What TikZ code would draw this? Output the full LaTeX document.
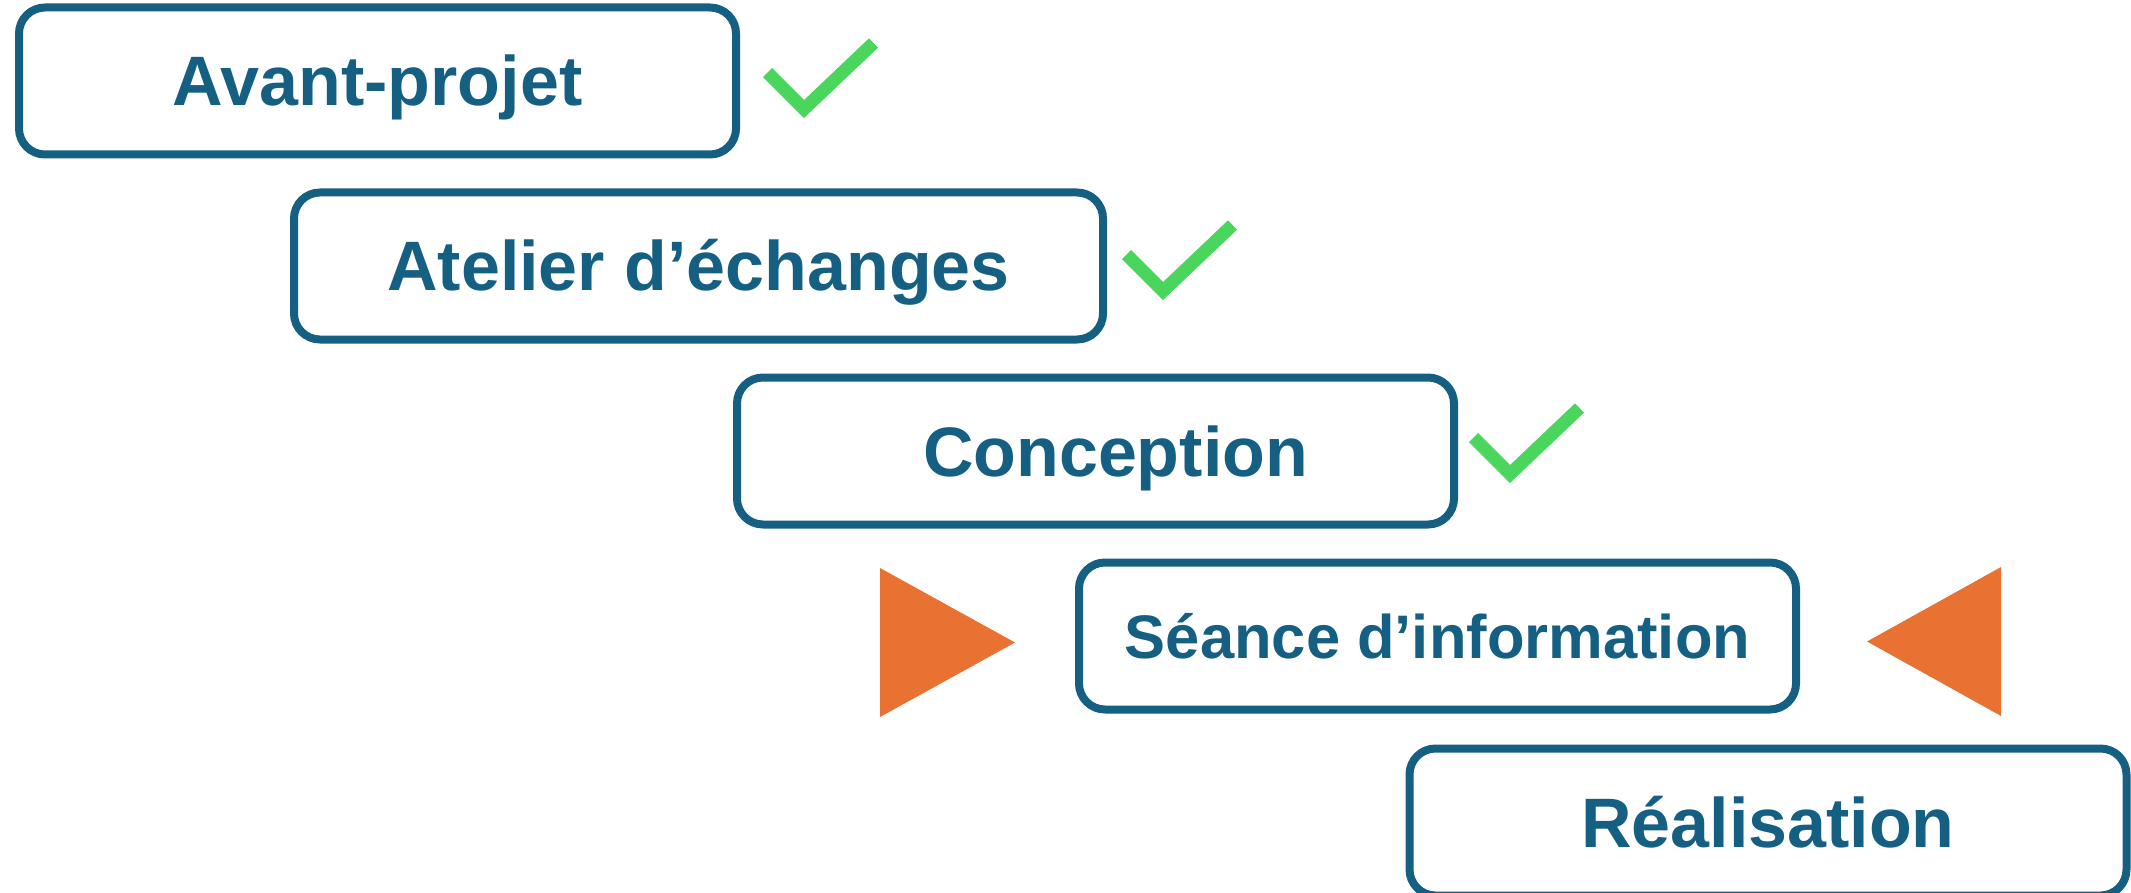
\documentclass[tikz,border=0pt]{standalone}
\usepackage{fontspec}
\setmainfont{Liberation Sans}
\usepackage{tikz}
\usetikzlibrary{positioning, calc}
\definecolor{etapecolor}{HTML}{156082}
\definecolor{checkcolor}{RGB}{74,213,92}
\definecolor{reperecolor}{HTML}{E97132}

\begin{document}
\begin{tikzpicture}[
    x=1pt, y=-1pt,
    etape/.style={draw=etapecolor, rectangle, rounded corners=26pt, minimum width=717pt, minimum height=147pt, inner sep=0pt, text=etapecolor, font=\fontsize{70}{84}\selectfont\bfseries, text height=50pt, text depth=0pt, line width=8pt},
    coche/.style={draw=checkcolor, line width=13pt, line join=miter, line cap=butt},
    repere/.style={fill=reperecolor}
]
    \useasboundingbox (0,0) rectangle (2131,893);

    % Etapes
    \node[etape] (avant) at (377.5,81) {Avant-projet};
    \node[etape, minimum width=809pt] (atelier) at (698.5,266) {Atelier d’échanges};
    \node[etape] (conception) at (1095.5,451) {\hspace*{40pt}Conception};
    \node[etape, font=\fontsize{61.5}{74}\selectfont\bfseries, text height=44pt] (seance) at (1437.5,636) {Séance d’information};
    \node[etape] (realisation) at (1768,822) {Réalisation};

    % Coches (étapes faites)
    \foreach \dx/\dy in {0/0, 359/182, 706/365}
        \draw[coche, shift={(\dx,\dy)}] (767.5,72.5) -- (804,109) -- (873.5,43);

    % Repères autour de l'étape en cours
    \fill[repere] (880,568) -- (880,717) -- (1015,642.5) -- cycle;
    \fill[repere] (2001,567) -- (2001,716) -- (1867,641.5) -- cycle;
\end{tikzpicture}
\end{document}
